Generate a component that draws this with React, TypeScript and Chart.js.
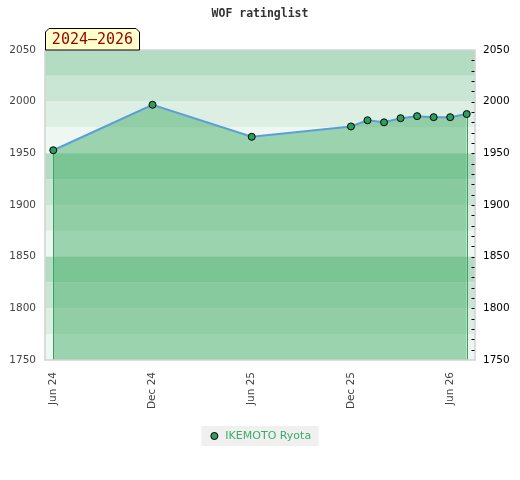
import { useEffect, useRef } from 'react';
import { Chart, registerables } from 'chart.js';

Chart.register(...registerables);

// ---- data ----
const categories = [
  'Jun 24', 'Jul 24', 'Aug 24', 'Sep 24', 'Oct 24', 'Nov 24',
  'Dec 24', 'Jan 25', 'Feb 25', 'Mar 25', 'Apr 25', 'May 25',
  'Jun 25', 'Jul 25', 'Aug 25', 'Sep 25', 'Oct 25', 'Nov 25',
  'Dec 25', 'Jan 26', 'Feb 26', 'Mar 26', 'Apr 26', 'May 26',
  'Jun 26', 'Jul 26',
];
const ratings: (number | null)[] = [
  1953, null, null, null, null, null,
  1997, null, null, null, null, null,
  1966, null, null, null, null, null,
  1976, 1982, 1980, 1984, 1986, 1985,
  1985, 1988,
];
const labelEvery = 6;
const yMin = 1750;
const yMax = 2050;
const yStep = 50;
const bandStep = 25;
const minorStep = 10;
const seriesName = 'IKEMOTO Ryota';
const chartTitle = 'WOF ratinglist';
const periodTab = '2024–2026';

// ---- styles ----
const bandColors = ['#b3dcc3', '#c9e6d4', '#ddefe3', '#eef7f1'];
const fillColor = 'rgba(60,170,96,0.47)';
const lineColor = '#5b9fd8';
const pointColor = '#2e9e5e';
const edgeColor = '#3aa35e';
const legendText = '#3aae66';

const decor = {
  id: 'decor',
  beforeDraw(chart: any) {
    const { ctx } = chart;
    const hb = chart.legend?.legendHitBoxes?.[0];
    if (hb) {
      ctx.save();
      ctx.fillStyle = '#f0f0f0';
      ctx.fillRect(hb.left - 7.5, hb.top - 4.5, hb.width + 15, hb.height + 9);
      ctx.restore();
    }
  },
  beforeDatasetsDraw(chart: any) {
    const { ctx, chartArea } = chart;
    const y = chart.scales.y;
    ctx.save();
    for (let v = yMax; v > yMin; v -= bandStep) {
      const i = Math.round((yMax - v) / bandStep) % bandColors.length;
      const t = y.getPixelForValue(v);
      const b = y.getPixelForValue(v - bandStep);
      ctx.fillStyle = bandColors[i];
      ctx.fillRect(chartArea.left, t, chartArea.right - chartArea.left, b - t);
    }
    ctx.restore();
  },
  beforeDatasetDraw(chart: any, args: any) {
    const { ctx, chartArea } = chart;
    const meta = chart.getDatasetMeta(args.index);
    const pts = meta.data.filter((p: any) => !p.skip);
    if (!pts.length) return;
    ctx.save();
    ctx.strokeStyle = edgeColor;
    ctx.lineWidth = 1;
    [pts[0], pts[pts.length - 1]].forEach((p: any) => {
      const x = Math.round(p.x) + 0.5;
      ctx.beginPath();
      ctx.moveTo(x, p.y);
      ctx.lineTo(x, chartArea.bottom);
      ctx.stroke();
    });
    ctx.restore();
  },
  afterDatasetsDraw(chart: any) {
    const { ctx, chartArea } = chart;
    const { left, right, top, bottom } = chartArea;
    ctx.save();
    ctx.strokeStyle = '#d2d2d2';
    ctx.lineWidth = 1.5;
    ctx.strokeRect(left, top, right - left, bottom - top);
    const y2 = chart.scales.y2;
    ctx.strokeStyle = '#000';
    ctx.lineWidth = 1;
    for (let v = yMin + minorStep; v < yMax; v += minorStep) {
      const py = Math.round(y2.getPixelForValue(v)) + 0.5;
      ctx.beginPath();
      ctx.moveTo(right - 3.5, py);
      ctx.lineTo(right - 0.5, py);
      ctx.stroke();
    }
    ctx.restore();
  },
  afterDraw(chart: any) {
    const { ctx, chartArea } = chart;
    const l = chartArea.left;
    const b = chartArea.top;
    const r = l + 95;
    const t = b - 22;
    const c = 4;
    ctx.save();
    ctx.beginPath();
    ctx.moveTo(l + 0.5, b);
    ctx.lineTo(l + 0.5, t + c);
    ctx.lineTo(l + c, t + 0.5);
    ctx.lineTo(r - c, t + 0.5);
    ctx.lineTo(r - 0.5, t + c);
    ctx.lineTo(r - 0.5, b);
    ctx.closePath();
    ctx.fillStyle = '#ffffcc';
    ctx.fill();
    ctx.strokeStyle = '#000';
    ctx.lineWidth = 1;
    ctx.stroke();
    ctx.fillStyle = '#990000';
    ctx.font = '15px "DejaVu Sans Mono"';
    ctx.textAlign = 'center';
    ctx.textBaseline = 'middle';
    ctx.fillText(periodTab, (l + r) / 2, (t + b) / 2 + 1);
    ctx.restore();
  },
};

export default function App() {
  const ref = useRef<HTMLCanvasElement>(null);
  useEffect(() => {
    document.body.style.margin = '0';
    const canvas = ref.current;
    if (!canvas) return;
    const tickFont = { family: '"DejaVu Sans"', size: 10.5 };
    const plain = (v: any) => String(v);
    const chart = new Chart(canvas, {
      type: 'line',
      data: {
        labels: categories,
        datasets: [
          {
            label: seriesName,
            data: ratings,
            spanGaps: true,
            borderColor: lineColor,
            borderWidth: 2,
            backgroundColor: fillColor,
            fill: 'start',
            tension: 0,
            pointRadius: 3.5,
            pointBackgroundColor: pointColor,
            pointBorderColor: '#000',
            pointBorderWidth: 1,
            pointStyle: 'circle',
          },
        ],
      },
      options: {
        responsive: false,
        animation: false,
        devicePixelRatio: 1,
        layout: { padding: { top: 0, left: 0, right: 0, bottom: 28.5 } },
        scales: {
          x: {
            type: 'category',
            offset: true,
            grid: { display: false, drawTicks: false, tickLength: 0 },
            border: { display: false },
            ticks: {
              autoSkip: false,
              minRotation: 90,
              maxRotation: 90,
              padding: 12,
              color: '#444',
              font: tickFont,
              callback: (_v: any, i: number) => (i % labelEvery === 0 ? categories[i] : null),
            },
            afterFit: (s: any) => {
              s.height = 60.5;
            },
          },
          y: {
            position: 'left',
            min: yMin,
            max: yMax,
            grid: { display: false, drawTicks: false, tickLength: 0 },
            border: { display: false },
            ticks: { stepSize: yStep, padding: 9, color: '#444', font: tickFont, callback: plain },
            afterFit: (s: any) => {
              s.width = 45;
            },
          },
          y2: {
            position: 'right',
            min: yMin,
            max: yMax,
            grid: { display: false, drawTicks: false, tickLength: 0 },
            border: { display: false },
            ticks: { stepSize: yStep, padding: 8, color: '#000', font: tickFont, callback: plain },
            afterFit: (s: any) => {
              s.width = 45;
            },
          },
        },
        plugins: {
          title: {
            display: true,
            text: chartTitle,
            color: '#333',
            font: { family: '"DejaVu Sans Mono"', size: 11.5, weight: 'bold' },
            padding: { top: 7.1, bottom: 29.1 },
          },
          legend: {
            display: true,
            position: 'bottom',
            labels: {
              usePointStyle: true,
              boxHeight: 5,
              boxWidth: 11,
              padding: 10,
              color: legendText,
              font: { family: '"DejaVu Sans"', size: 11 },
            },
          },
          tooltip: { enabled: false },
        },
      },
      plugins: [decor],
    } as any);
    return () => chart.destroy();
  }, []);
  return <canvas ref={ref} width={520} height={480} style={{ display: 'block' }} />;
}
